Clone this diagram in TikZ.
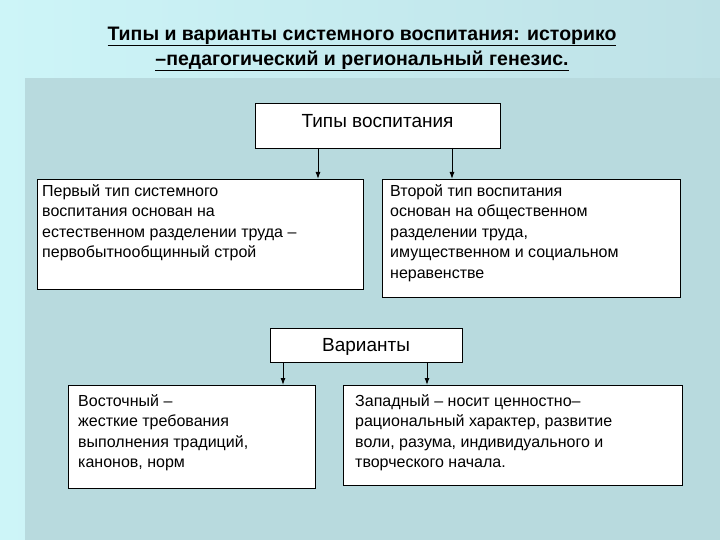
\documentclass[tikz,border=0pt]{standalone}
\usepackage{fontspec}
\setmainfont{Liberation Sans}
\usetikzlibrary{arrows.meta}
\definecolor{bgl}{RGB}{205,245,248}
\definecolor{bgr}{RGB}{190,225,230}
\definecolor{panel}{RGB}{184,218,222}
\begin{document}
\begin{tikzpicture}[x=1pt,y=-1pt,
  box/.style={draw=black,fill=white,line width=0.8pt},
  txt/.style={anchor=north west,align=left,font=\fontsize{16}{20.5}\selectfont,inner sep=0pt},
  arr/.style={-{Latex[length=7pt,width=5pt]},line width=1pt}]
\useasboundingbox (0,0) rectangle (720,540);
\fill[left color=bgl,right color=bgr] (0,0) rectangle (720,540);
\fill[panel] (25,78) rectangle (720,540);
\node[font=\bfseries\fontsize{19.5}{25}\selectfont,align=center] (title) at (362,49)
  {\underline{Типы и варианты системного воспитания: историко}\\\underline{–педагогический и региональный генезис.}};
\draw[box] (255,103) rectangle (500,148);
\node[font=\fontsize{19}{22}\selectfont] (types) at (377.5,121) {Типы воспитания};
\coordinate (tl) at (318,148); \coordinate (tr) at (452,148);
\draw[box] (37,179) rectangle (363,289);
\node[txt] (b1) at (42,184) {Первый тип системного\\воспитания основан на\\естественном разделении труда –\\первобытнообщинный строй};
\draw[box] (382,179) rectangle (680,297);
\node[txt] (b2) at (390,184) {Второй тип воспитания\\основан на общественном\\разделении труда,\\имущественном и социальном\\неравенстве};
\coordinate (t1) at (318,179); \coordinate (t2) at (452,179);
\draw[arr] (tl) -- (t1);
\draw[arr] (tr) -- (t2);
\draw[box] (270,328) rectangle (462,362);
\node[font=\fontsize{19}{22}\selectfont] (var) at (366,347) {Варианты};
\coordinate (vl) at (283,362); \coordinate (vr) at (427,362);
\coordinate (v1) at (283,385); \coordinate (v2) at (427,385);
\draw[box] (68,385) rectangle (315,488);
\node[txt] (b3) at (78,394) {Восточный –\\жесткие требования\\выполнения традиций,\\канонов, норм};
\draw[box] (343,385) rectangle (682,485);
\node[txt] (b4) at (355,394) {Западный – носит ценностно–\\рациональный характер, развитие\\воли, разума, индивидуального и\\творческого начала.};
\draw[arr] (vl) -- (v1);
\draw[arr] (vr) -- (v2);
\end{tikzpicture}
\end{document}
